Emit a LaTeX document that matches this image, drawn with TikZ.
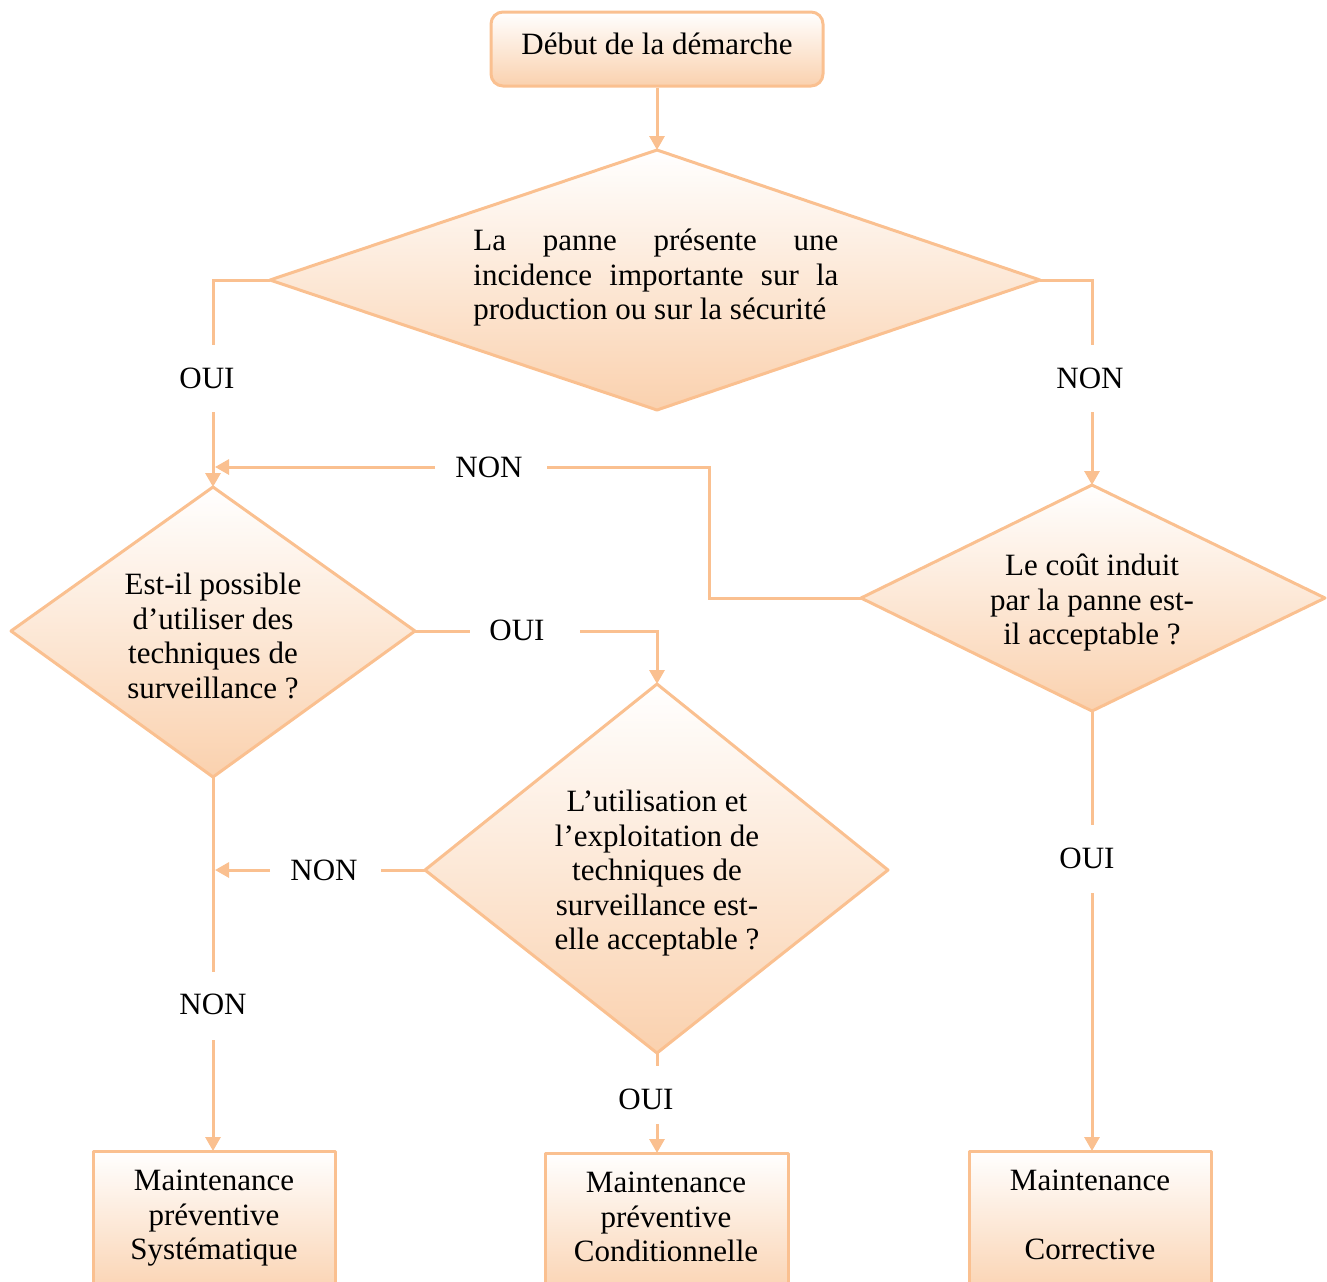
\documentclass[tikz,border=0pt]{standalone}
\usepackage{fontspec}
\setmainfont{Liberation Serif}
\usetikzlibrary{arrows.meta}
\definecolor{edge}{RGB}{250,192,144}
\definecolor{peach}{RGB}{250,209,174}
\begin{document}
\begin{tikzpicture}[x=0.5pt,y=-0.5pt,
  conn/.style={draw=edge, line width=1.5pt},
  arr/.style={conn, -{Triangle[length=7pt,width=7.5pt]}},
  shapefill/.style={top color=white, bottom color=peach, draw=edge, line width=1.5pt, line join=round},
  txt/.style={font=\fontsize{15.5}{17.25}\selectfont, inner sep=0pt, align=center},
  lbl/.style={font=\fontsize{15.5}{17.25}\selectfont, inner sep=0pt}]
\useasboundingbox (0,0) rectangle (1327,1281);
\clip (0,0) rectangle (1327,1281);

% start box
\node[shapefill, rounded corners=6pt, minimum width=166pt, minimum height=37pt,
      font=\fontsize{15.5}{17.25}\selectfont, text depth=5pt, inner sep=0pt] (start) at (657,49) {Début de la démarche};

% diamonds
\path[shapefill] (657,150) coordinate (d1t) -- (1040,280) coordinate (d1r) -- (657,410) coordinate (d1b) -- (270,280) coordinate (d1l) -- cycle;
\path[shapefill] (213,487) coordinate (d2t) -- (415,631) coordinate (d2r) -- (213,777) coordinate (d2b) -- (11,631) coordinate (d2l) -- cycle;
\path[shapefill] (1092,485) coordinate (d3t) -- (1325,598) coordinate (d3r) -- (1092,711) coordinate (d3b) -- (861,598) coordinate (d3l) -- cycle;
\path[shapefill] (657,684) coordinate (d4t) -- (888,870) coordinate (d4r) -- (657,1053) coordinate (d4b) -- (425,870) coordinate (d4l) -- cycle;

\node[txt, align=left, anchor=north west] (q1) at (473,229)
  {\makebox[182.5pt][s]{La panne présente une}\\\makebox[182.5pt][s]{incidence importante sur la}\\production ou sur la sécurité};
\node[txt, anchor=north] (q2) at (213,573) {Est-il possible\\d’utiliser des\\techniques de\\surveillance ?};
\node[txt, anchor=north] (q3) at (1092,554) {Le coût induit\\par la panne est-\\il acceptable ?};
\node[txt, anchor=north] (q4) at (657,790) {L’utilisation et\\l’exploitation de\\techniques de\\surveillance est-\\elle acceptable ?};

% bottom boxes
\path[shapefill] (93,1151) coordinate (b1nw) rectangle (335,1300);
\path[shapefill] (545,1153) coordinate (b2nw) rectangle (788,1300);
\path[shapefill] (969,1151) coordinate (b3nw) rectangle (1211,1300);
\coordinate (b1n) at (213,1151);
\coordinate (b2n) at (657,1153);
\coordinate (b3n) at (1092,1151);
\node[txt, anchor=north] (m1) at (214,1170) {Maintenance\\préventive\\Systématique};
\node[txt, anchor=north] (m2) at (666,1172) {Maintenance\\préventive\\Conditionnelle};
\node[txt, anchor=north] (m3) at (1090,1170) {Maintenance\\[17.25pt]Corrective};

% labels
\node[lbl] (l1) at (207,378) {OUI};
\node[lbl] (l2) at (1090,378) {NON};
\node[lbl] (l3) at (489,467) {NON};
\node[lbl] (l4) at (517,630) {OUI};
\node[lbl] (l5) at (324,870) {NON};
\node[lbl] (l6) at (213,1004) {NON};
\node[lbl] (l7) at (646,1099) {OUI};
\node[lbl] (l8) at (1087,858) {OUI};

% gap coordinates
\coordinate (g1a) at (213,345); \coordinate (g1b) at (213,412);
\coordinate (g2a) at (1092,345); \coordinate (g2b) at (1092,412);
\coordinate (g3a) at (547,467); \coordinate (g3b) at (435,467); \coordinate (j1) at (215,467);
\coordinate (g4a) at (470,631); \coordinate (g4b) at (580,631);
\coordinate (g5a) at (381,870); \coordinate (g5b) at (270,870); \coordinate (j2) at (215,870);
\coordinate (g6a) at (213,972); \coordinate (g6b) at (213,1040);
\coordinate (g7a) at (657,1066); \coordinate (g7b) at (657,1124);
\coordinate (g8a) at (1092,825); \coordinate (g8b) at (1092,893);

% connectors
\draw[arr] (start.south) -- (d1t);
\draw[conn] (d1l) -| (g1a);
\draw[arr] (g1b) -- (d2t);
\draw[conn] (d1r) -| (g2a);
\draw[arr] (g2b) -- (d3t);
\draw[conn] (d3l) -- (709,598) |- (g3a);
\draw[arr] (g3b) -- (j1);
\draw[conn] (d2r) -- (g4a);
\draw[arr] (g4b) -| (d4t);
\draw[conn] (d4l) -- (g5a);
\draw[arr] (g5b) -- (j2);
\draw[conn] (d2b) -- (g6a);
\draw[arr] (g6b) -- (b1n);
\draw[conn] (d4b) -- (g7a);
\draw[arr] (g7b) -- (b2n);
\draw[conn] (d3b) -- (g8a);
\draw[arr] (g8b) -- (b3n);
\end{tikzpicture}
\end{document}
